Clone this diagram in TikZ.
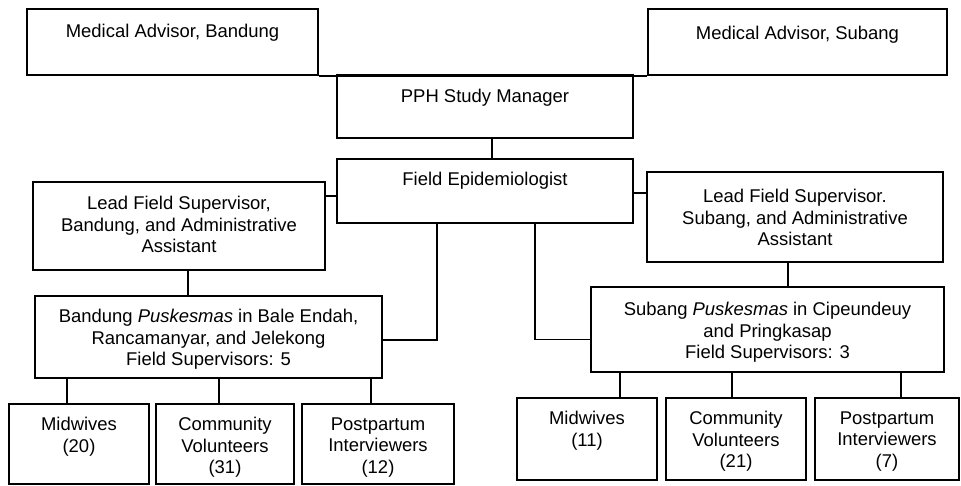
\documentclass[tikz,border=0pt]{standalone}
\usepackage{fontspec}
\setmainfont{Liberation Sans}
\tikzset{
    box/.style={draw, line width=0.9pt, inner sep=0pt},
    txt/.style={anchor=north, inner sep=0pt, align=center, font=\fontsize{10.5}{12.2}\selectfont},
    link/.style={line width=0.9pt}
}
\begin{document}
\begin{tikzpicture}[x=0.02cm, y=-0.02cm]
    \useasboundingbox (0,0) rectangle (961,485);

    \node [box, minimum width=5.82cm, minimum height=1.32cm] (mab) at (172.5,42) {};
    \node [txt] at ([yshift=-0.32cm]mab.north) {Medical Advisor, Bandung};
    \node [box, minimum width=5.98cm, minimum height=1.32cm] (mas) at (797.5,42) {};
    \node [txt] at ([yshift=-0.36cm]mas.north) {Medical Advisor, Subang};

    \node [box, minimum width=5.92cm, minimum height=1.26cm] (pph) at (485,106.5) {};
    \node [txt] at ([yshift=-0.3cm]pph.north) {PPH Study Manager};
    \node [box, minimum width=5.92cm, minimum height=1.28cm] (fe) at (485,191) {};
    \node [txt] at ([yshift=-0.28cm]fe.north) {Field Epidemiologist};

    \node [box, minimum width=5.84cm, minimum height=1.76cm] (lfb) at (179,226) {};
    \node [txt] at ([yshift=-0.3cm]lfb.north) {Lead Field Supervisor,\\Bandung, and Administrative\\Assistant};
    \node [box, minimum width=5.92cm, minimum height=1.8cm] (lfs) at (795,217) {};
    \node [txt] at ([yshift=-0.36cm]lfs.north) {Lead Field Supervisor.\\Subang, and Administrative\\Assistant};

    \node [box, minimum width=6.94cm, minimum height=1.64cm] (pb) at (208.5,337) {};
    \node [txt] at ([yshift=-0.28cm]pb.north) {Bandung \textit{Puskesmas} in Bale Endah,\\Rancamanyar, and Jelekong\\Field Supervisors: 5};
    \node [box, minimum width=7.06cm, minimum height=1.7cm] (ps) at (767.5,329.5) {};
    \node [txt] at ([yshift=-0.32cm]ps.north) {Subang \textit{Puskesmas} in Cipeundeuy\\and Pringkasap\\Field Supervisors: 3};

    \node [box, minimum width=2.8cm, minimum height=1.6cm] (mwb) at (79,444) {};
    \node [txt] at ([yshift=-0.28cm]mwb.north) {Midwives\\(20)};
    \node [box, minimum width=2.76cm, minimum height=1.6cm] (cvb) at (225,444) {};
    \node [txt] at ([yshift=-0.28cm]cvb.north) {Community\\Volunteers\\(31)};
    \node [box, minimum width=3.04cm, minimum height=1.6cm] (pib) at (378,444) {};
    \node [txt] at ([yshift=-0.28cm]pib.north) {Postpartum\\Interviewers\\(12)};

    \node [box, minimum width=2.8cm, minimum height=1.64cm] (mws) at (587,439) {};
    \node [txt] at ([yshift=-0.28cm]mws.north) {Midwives\\(11)};
    \node [box, minimum width=2.8cm, minimum height=1.64cm] (cvs) at (736,439) {};
    \node [txt] at ([yshift=-0.28cm]cvs.north) {Community\\Volunteers\\(21)};
    \node [box, minimum width=2.88cm, minimum height=1.64cm] (pis) at (887,439) {};
    \node [txt] at ([yshift=-0.28cm]pis.north) {Postpartum\\Interviewers\\(7)};

    \draw [link] (mab.south east) -- (mas.south west);
    \draw [link] ([xshift=0.14cm]pph.south) -- ([xshift=0.14cm]fe.north);
    \draw [link] ([yshift=-0.1cm]fe.west) -- ([yshift=-0.1cm]fe.west -| lfb.east);
    \draw [link] ([yshift=-0.04cm]fe.east) -- ([yshift=-0.04cm]fe.east -| lfs.west);
    \draw [link] ([xshift=0.18cm]lfb.south) -- ([xshift=0.18cm]lfb.south |- pb.north);
    \draw [link] ([xshift=-0.14cm]lfs.south) -- ([xshift=-0.14cm]lfs.south |- ps.north);
    \draw [link] ([yshift=-0.06cm]pb.east) -| ([xshift=-0.96cm]fe.south);
    \draw [link] ([xshift=1cm]fe.south) |- ([yshift=-0.2cm]ps.west);
    \foreach \b/\s in {mwb/-0.24, cvb/-0.12, pib/-0.14}
        \draw [link] ([xshift=\s cm]\b.north) -- ([xshift=\s cm]\b.north |- pb.south);
    \foreach \b/\s in {mws/0.66, cvs/-0.08, pis/0.28}
        \draw [link] ([xshift=\s cm]\b.north) -- ([xshift=\s cm]\b.north |- ps.south);
\end{tikzpicture}
\end{document}
